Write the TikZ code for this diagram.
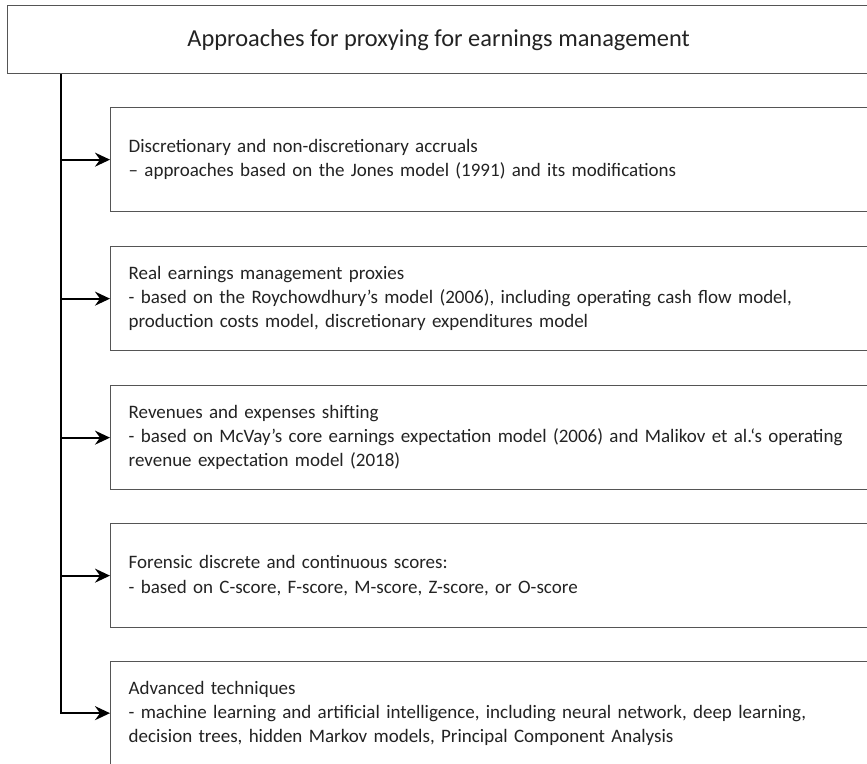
\documentclass[tikz,border=0pt]{standalone}
\usepackage{fontspec}
\setmainfont{Carlito}
\usetikzlibrary{arrows.meta}
\definecolor{framegray}{RGB}{85,85,85}
\definecolor{inkgray}{RGB}{35,35,35}
\tikzset{
  headbox/.style={draw=framegray, line width=1.3pt, text=inkgray, anchor=north west,
    minimum width=862pt, minimum height=68pt, inner sep=0pt,
    font=\fontsize{24.4}{29}\selectfont},
  itembox/.style={draw=framegray, line width=1.3pt, text=inkgray, anchor=north west,
    text width=754pt, inner xsep=18pt, inner ysep=0pt, align=left,
    minimum height=104pt, font=\fontsize{19}{24.2}\selectfont},
  feed/.style={draw=black, line width=1.8pt, -{Stealth[length=15pt,width=14pt,inset=5pt]}},
}
\begin{document}
\begin{tikzpicture}[x=1pt,y=-1pt]
\useasboundingbox (0,0) rectangle (867,763);
\clip (0,0) rectangle (867,763);
\fill[white] (0,0) rectangle (867,763);

\node[headbox] (head) at (7,5) {Approaches for proxying for earnings management};

\node[itembox] (b1) at (110,107) {Discretionary and non-discretionary accruals\\
– approaches based on the Jones model (1991) and its modifications};
\node[itembox] (b2) at (110,246) {Real earnings management proxies\\
- based on the Roychowdhury’s model (2006), including operating cash flow model,\\
production costs model, discretionary expenditures model};
\node[itembox] (b3) at (110,385) {Revenues and expenses shifting\\
- based on McVay’s core earnings expectation model (2006) and Malikov et al.‘s operating\\
revenue expectation model (2018)};
\node[itembox] (b4) at (110,523) {Forensic discrete and continuous scores:\\
- based on C-score, F-score, M-score, Z-score, or O-score};
\node[itembox, minimum height=103pt] (b5) at (110,661) {Advanced techniques\\
- machine learning and artificial intelligence, including neural network, deep learning,\\
decision trees, hidden Markov models, Principal Component Analysis};

\coordinate (trunk) at ([xshift=54pt]head.south west);
\draw[feed] (trunk) |- (b5.west);
\foreach \b in {b1,b2,b3,b4}
  \draw[feed] (trunk |- \b.west) -- (\b.west);
\end{tikzpicture}
\end{document}
